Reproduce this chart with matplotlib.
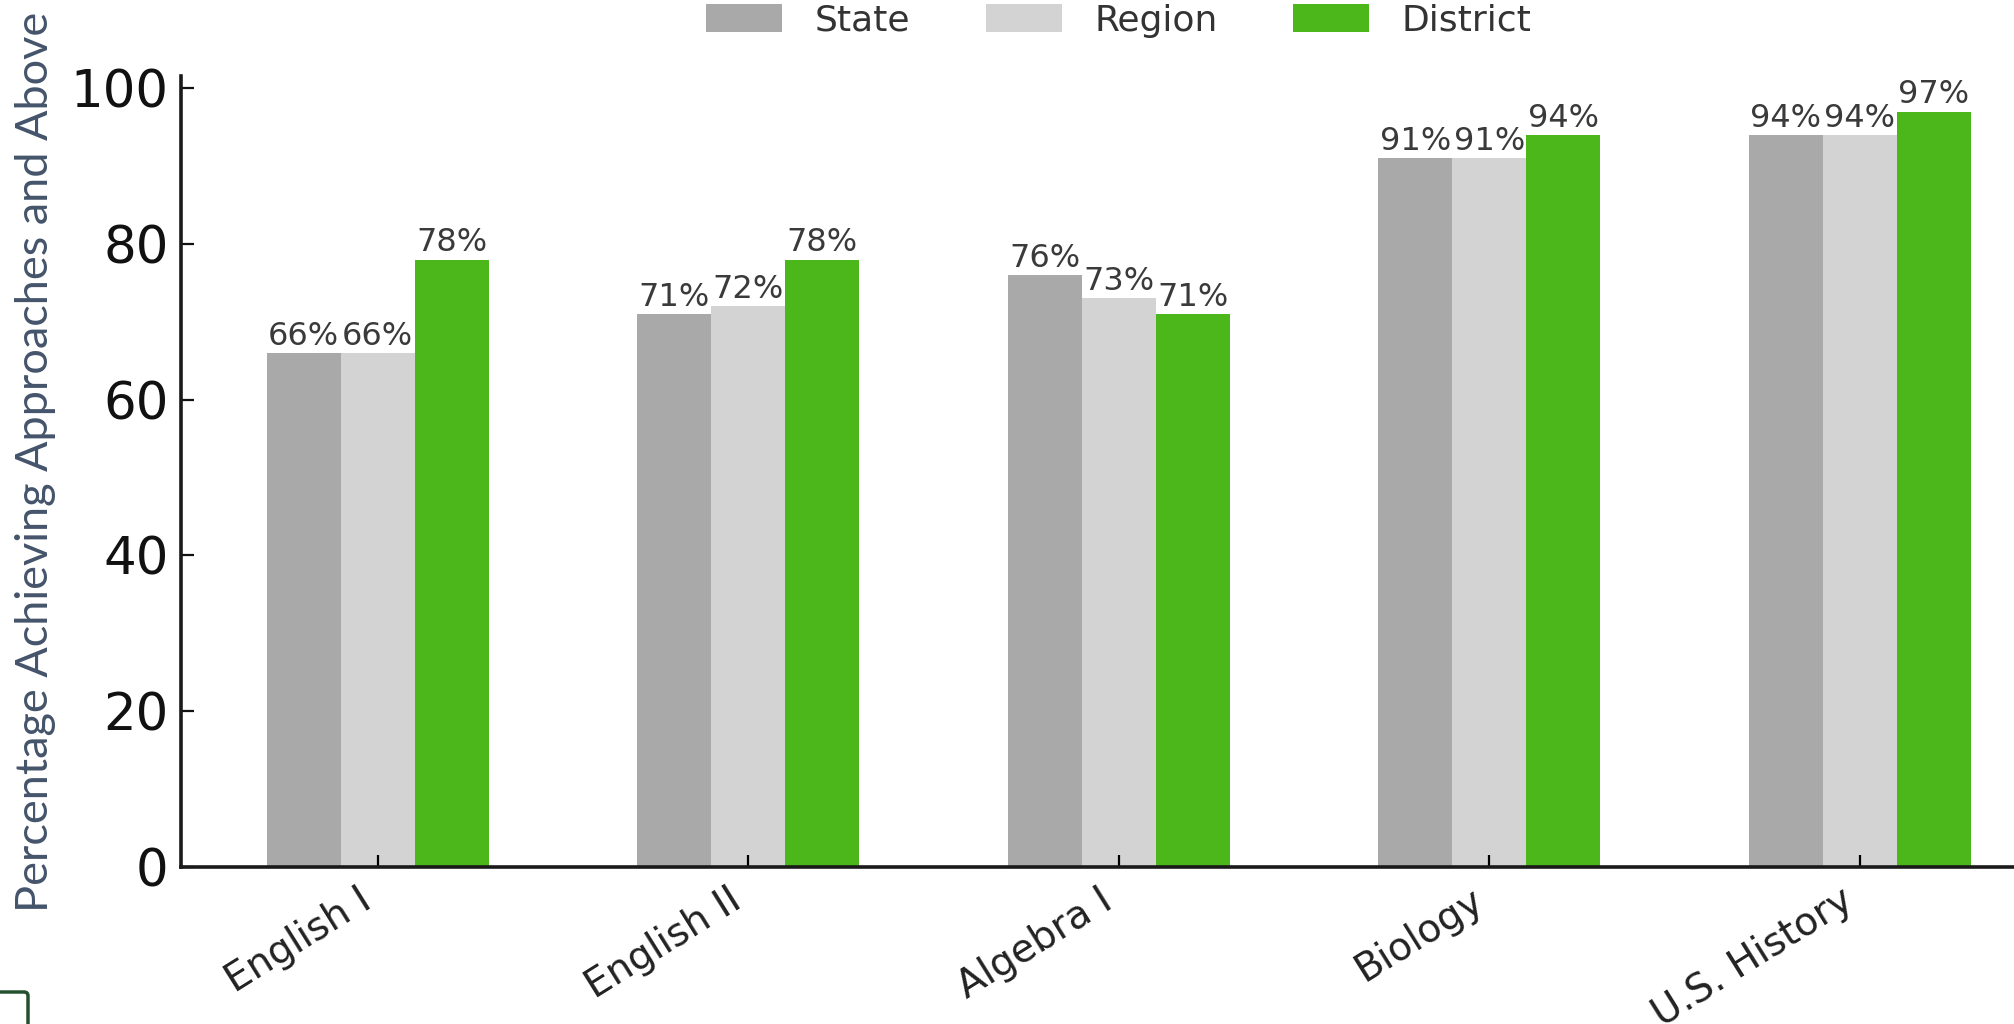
import numpy as np
import matplotlib
matplotlib.use('Agg')
import matplotlib.pyplot as plt
from matplotlib.patches import FancyBboxPatch

# Subjects and the share of students at Approaches or above, per level
subjects = ['English I', 'English II', 'Algebra I', 'Biology', 'U.S. History']
state = [66, 71, 76, 91, 94]
region = [66, 72, 73, 91, 94]
district = [78, 78, 71, 94, 97]

series_names = ['State', 'Region', 'District']
series_colors = ['#A9A9A9', '#D3D3D3', '#4CB71A']

fig = plt.figure(figsize=(20.15, 10.24), dpi=100)
ax = fig.add_axes([0.0898, 0.1533, 0.9308, 0.772])

x = np.arange(len(subjects))
width = 0.2

# Start plotting
for i, (vals, name, color) in enumerate(zip([state, region, district], series_names, series_colors)):
    bars = ax.bar(x + (i - 1) * width, vals, width, color=color, label=name)
    ax.bar_label(bars, fmt='{:.0f}%', padding=1, fontsize=23, color='#3A3A3A')

ax.set_xlim(-0.531, len(subjects) - 1 + 0.531)
ax.set_ylim(0, 101.5)
ax.set_yticks([0, 20, 40, 60, 80, 100])
ax.set_xticks(x)
ax.set_xticklabels(subjects, rotation=32, ha='right', fontsize=28, color='#222222')
ax.tick_params(axis='y', labelsize=37, direction='in', length=9, width=1.6, pad=9, colors='#111111')
ax.tick_params(axis='x', direction='in', length=9, width=1.6, pad=10)

for side in ['top', 'right']:
    ax.spines[side].set_visible(False)
for side in ['left', 'bottom']:
    ax.spines[side].set_linewidth(2.6)
    ax.spines[side].set_color('#1A1A1A')

# Legend above the plot, no frame
leg = ax.legend(loc='upper center', bbox_to_anchor=(0.5, 1.11), ncol=3, frameon=False,
                fontsize=26, handlelength=2.1, handleheight=0.82, handletextpad=0.9,
                columnspacing=2.1, borderaxespad=0)
for txt in leg.get_texts():
    txt.set_color('#333333')

# Axis title set as a separate text block
fig.text(0.0175, 0.549, 'Percentage Achieving Approaches and Above', rotation=90,
         ha='center', va='center', fontsize=32.5, color='#44546A',
         family=['Liberation Sans Narrow', 'Lato', 'DejaVu Sans'])

# Small rounded box in the lower left corner
box = FancyBboxPatch((-12, -12), 40, 44, boxstyle='round,pad=0,rounding_size=4',
                     transform=None, facecolor='white', edgecolor='#24502F', linewidth=2.5)
fig.patches.append(box)

fig.savefig('out.png', dpi=100)
